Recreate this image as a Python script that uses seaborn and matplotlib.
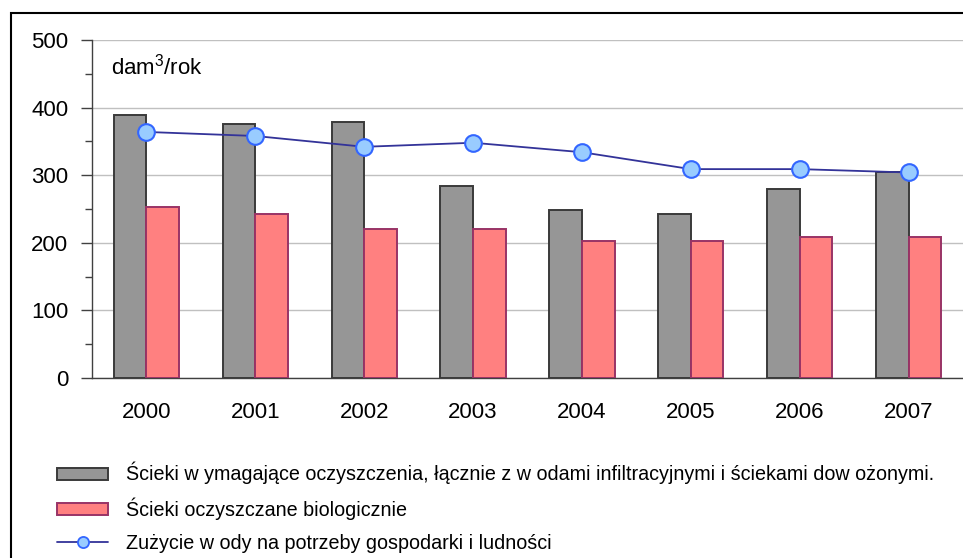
import numpy as np
import pandas as pd
import matplotlib
matplotlib.use("Agg")
import matplotlib.pyplot as plt
import seaborn as sns
from matplotlib.patches import Rectangle, Patch
from matplotlib.lines import Line2D
from matplotlib.ticker import MultipleLocator, FixedLocator

# data
years = ['2000', '2001', '2002', '2003', '2004', '2005', '2006', '2007']
scieki_wymagajace = [389, 376, 379, 284, 248, 243, 279, 305]
scieki_biologiczne = [253, 243, 220, 220, 203, 203, 209, 209]
zuzycie_wody = [364, 358, 342, 348, 334, 309, 309, 304]

name_wym = 'Ścieki w ymagające oczyszczenia, łącznie z w odami infiltracyjnymi i ściekami dow ożonymi.'
name_bio = 'Ścieki oczyszczane biologicznie'
name_woda = 'Zużycie w ody na potrzeby gospodarki i ludności'

sns.set_style('white')
plt.rcParams['font.family'] = ['Liberation Sans', 'DejaVu Sans']
plt.rcParams['mathtext.fontset'] = 'custom'
plt.rcParams['mathtext.rm'] = 'Liberation Sans'
plt.rcParams['text.color'] = 'black'

df = pd.DataFrame({
    'rok': years * 2,
    'wartosc': scieki_wymagajace + scieki_biologiczne,
    'seria': [name_wym] * len(years) + [name_bio] * len(years),
})

bar_colors = ['#969696', '#ff8080']
edge_colors = ['#3a3a3a', '#993366']

fig = plt.figure(figsize=(9.63, 5.58), dpi=100)
ax = fig.add_axes([92 / 963, 1 - 378 / 558, (963 - 92) / 963, (378 - 40) / 558])

sns.barplot(data=df, x='rok', y='wartosc', hue='seria', palette=bar_colors,
            saturation=1, width=0.6, ax=ax, legend=False, zorder=3)
for cont, ec in zip(ax.containers, edge_colors):
    for bar in cont:
        bar.set_edgecolor(ec)
        bar.set_linewidth(1.4)

ax.plot(np.arange(len(years)), zuzycie_wody, color='#333399', lw=1.3,
        marker='o', ms=12, mfc='#99ccff', mec='#3366ff', mew=1.5, zorder=5)

# axes styling
ax.set_xlim(-0.5, len(years) - 0.5)
ax.set_ylim(0, 500)
ax.yaxis.set_major_locator(MultipleLocator(100))
ax.yaxis.set_minor_locator(MultipleLocator(50))
ax.grid(axis='y', which='major', color='#c0c0c0', lw=1)
ax.set_axisbelow(True)
ax.xaxis.set_minor_locator(FixedLocator(np.arange(-0.5, len(years), 1.0)))
ax.tick_params(axis='x', which='major', length=0, pad=17, labelsize=16, labelcolor='black')
ax.tick_params(axis='x', which='minor', direction='inout', length=15, width=1, color='#404040')
ax.tick_params(axis='y', which='major', direction='out', length=8, width=1, color='#404040',
               pad=9, labelsize=16, left=True, labelcolor='black')
ax.tick_params(axis='y', which='minor', direction='out', length=5, width=1, color='#404040', left=True)
for s in ['top', 'right']:
    ax.spines[s].set_visible(False)
for s in ['left', 'bottom']:
    ax.spines[s].set_color('#404040')
    ax.spines[s].set_linewidth(1)
ax.set_xlabel('')
ax.set_ylabel('')

ax.text(-0.33, 460, r'dam$^{\mathrm{3}}$/rok', va='center', ha='left', fontsize=16, color='black')

# legend below the plot
handles = [
    Patch(facecolor=bar_colors[0], edgecolor=edge_colors[0], lw=1.4),
    Patch(facecolor=bar_colors[1], edgecolor=edge_colors[1], lw=1.4),
    Line2D([], [], color='#333399', lw=1.3, marker='o', ms=8, mfc='#99ccff', mec='#3366ff', mew=1.3),
]
fig.legend(handles, [name_wym, name_bio, name_woda], loc='upper left',
           bbox_to_anchor=(57 / 963, 1 - 462 / 558), frameon=False, fontsize=14.2,
           borderpad=0, borderaxespad=0, handlelength=2.6, handleheight=0.56,
           handletextpad=0.9, labelspacing=0.68, labelcolor='black')

# outer frame
fig.patches.append(Rectangle((11 / 963, -0.05), 1.2, 1.05 - 13 / 558, transform=fig.transFigure,
                             fill=False, edgecolor='black', lw=1.5))

fig.savefig('out.png', dpi=100)
